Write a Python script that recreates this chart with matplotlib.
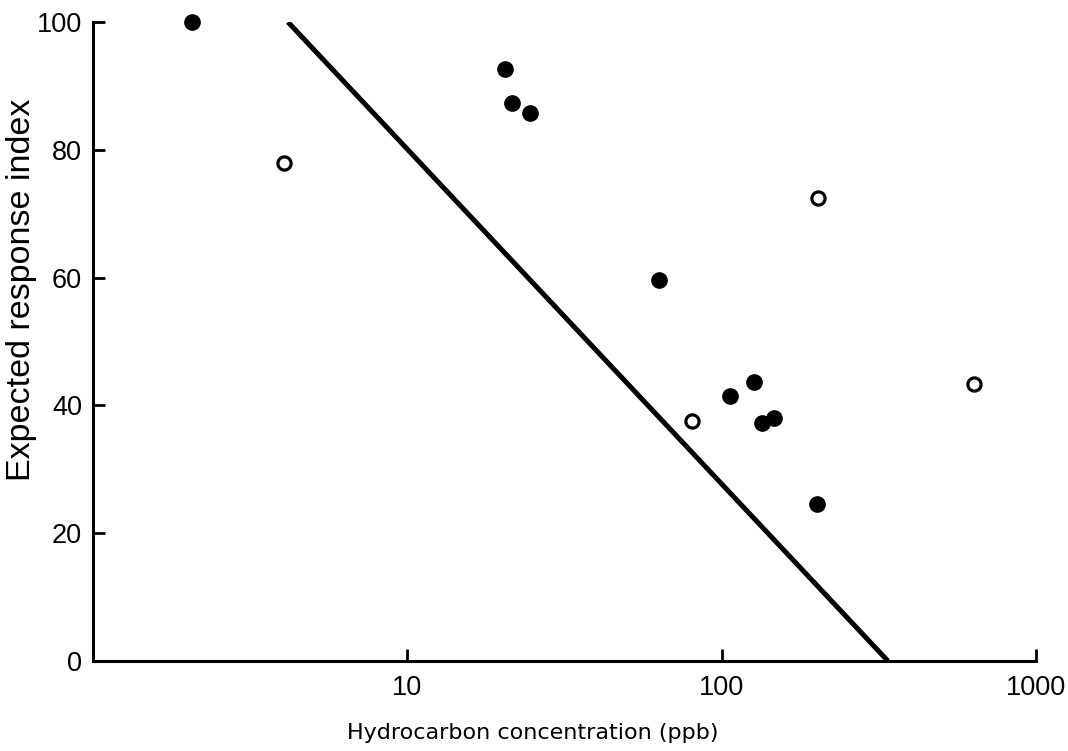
import matplotlib
matplotlib.use("Agg")
import matplotlib.pyplot as plt
from matplotlib.ticker import FixedLocator, NullLocator, FixedFormatter

# Data
filled_x = [2.06, 20.5, 21.5, 24.5, 63.2, 106, 127, 134, 147, 201]
filled_y = [100, 92.6, 87.3, 85.7, 59.7, 41.5, 43.6, 37.3, 38.1, 24.6]
open_x = [4.05, 80.3, 203, 634]
open_y = [77.9, 37.5, 72.4, 43.3]
line_x = [4.17, 338]
line_y = [100, 0]
xticks = [10, 100, 1000]
xticklabels = ["10", "100", "1000"]
yticks = [0, 20, 40, 60, 80, 100]

plt.rcParams['font.family'] = ['Liberation Sans', 'DejaVu Sans']

W, H = 1068, 751
fig = plt.figure(figsize=(W / 100, H / 100), dpi=100)
ax = fig.add_axes([93 / W, 1 - 661 / H, (1036 - 93) / W, (661 - 22) / H])

ax.plot(line_x, line_y, color='black', lw=3.6, solid_capstyle='butt', zorder=2)
ax.plot(filled_x, filled_y, 'o', color='black', ms=11, zorder=3, clip_on=False)
ax.plot(open_x, open_y, 'o', mfc='white', mec='black', ms=9.5, mew=2.3, zorder=3, clip_on=False)

ax.set_xscale('log')
ax.set_xlim(1, 1000)
ax.set_ylim(0, 100)
ax.xaxis.set_major_locator(FixedLocator(xticks))
ax.xaxis.set_major_formatter(FixedFormatter(xticklabels))
ax.xaxis.set_minor_locator(NullLocator())
ax.set_yticks(yticks)

for s in ['top', 'right']:
    ax.spines[s].set_visible(False)
for s in ['left', 'bottom']:
    ax.spines[s].set_linewidth(2.2)

ax.tick_params(axis='both', direction='in', length=8.5, width=2, labelsize=19.5)
ax.tick_params(axis='x', pad=10)
ax.tick_params(axis='y', pad=8)

fig.text(533 / W, 1 - 733 / H, 'Hydrocarbon concentration (ppb)', fontsize=16,
         family=['DejaVu Sans'], ha='center', va='center')
fig.text(22 / W, 1 - 290 / H, 'Expected response index', fontsize=24.5,
         rotation=90, ha='center', va='center')

fig.savefig('out.png', dpi=100)
